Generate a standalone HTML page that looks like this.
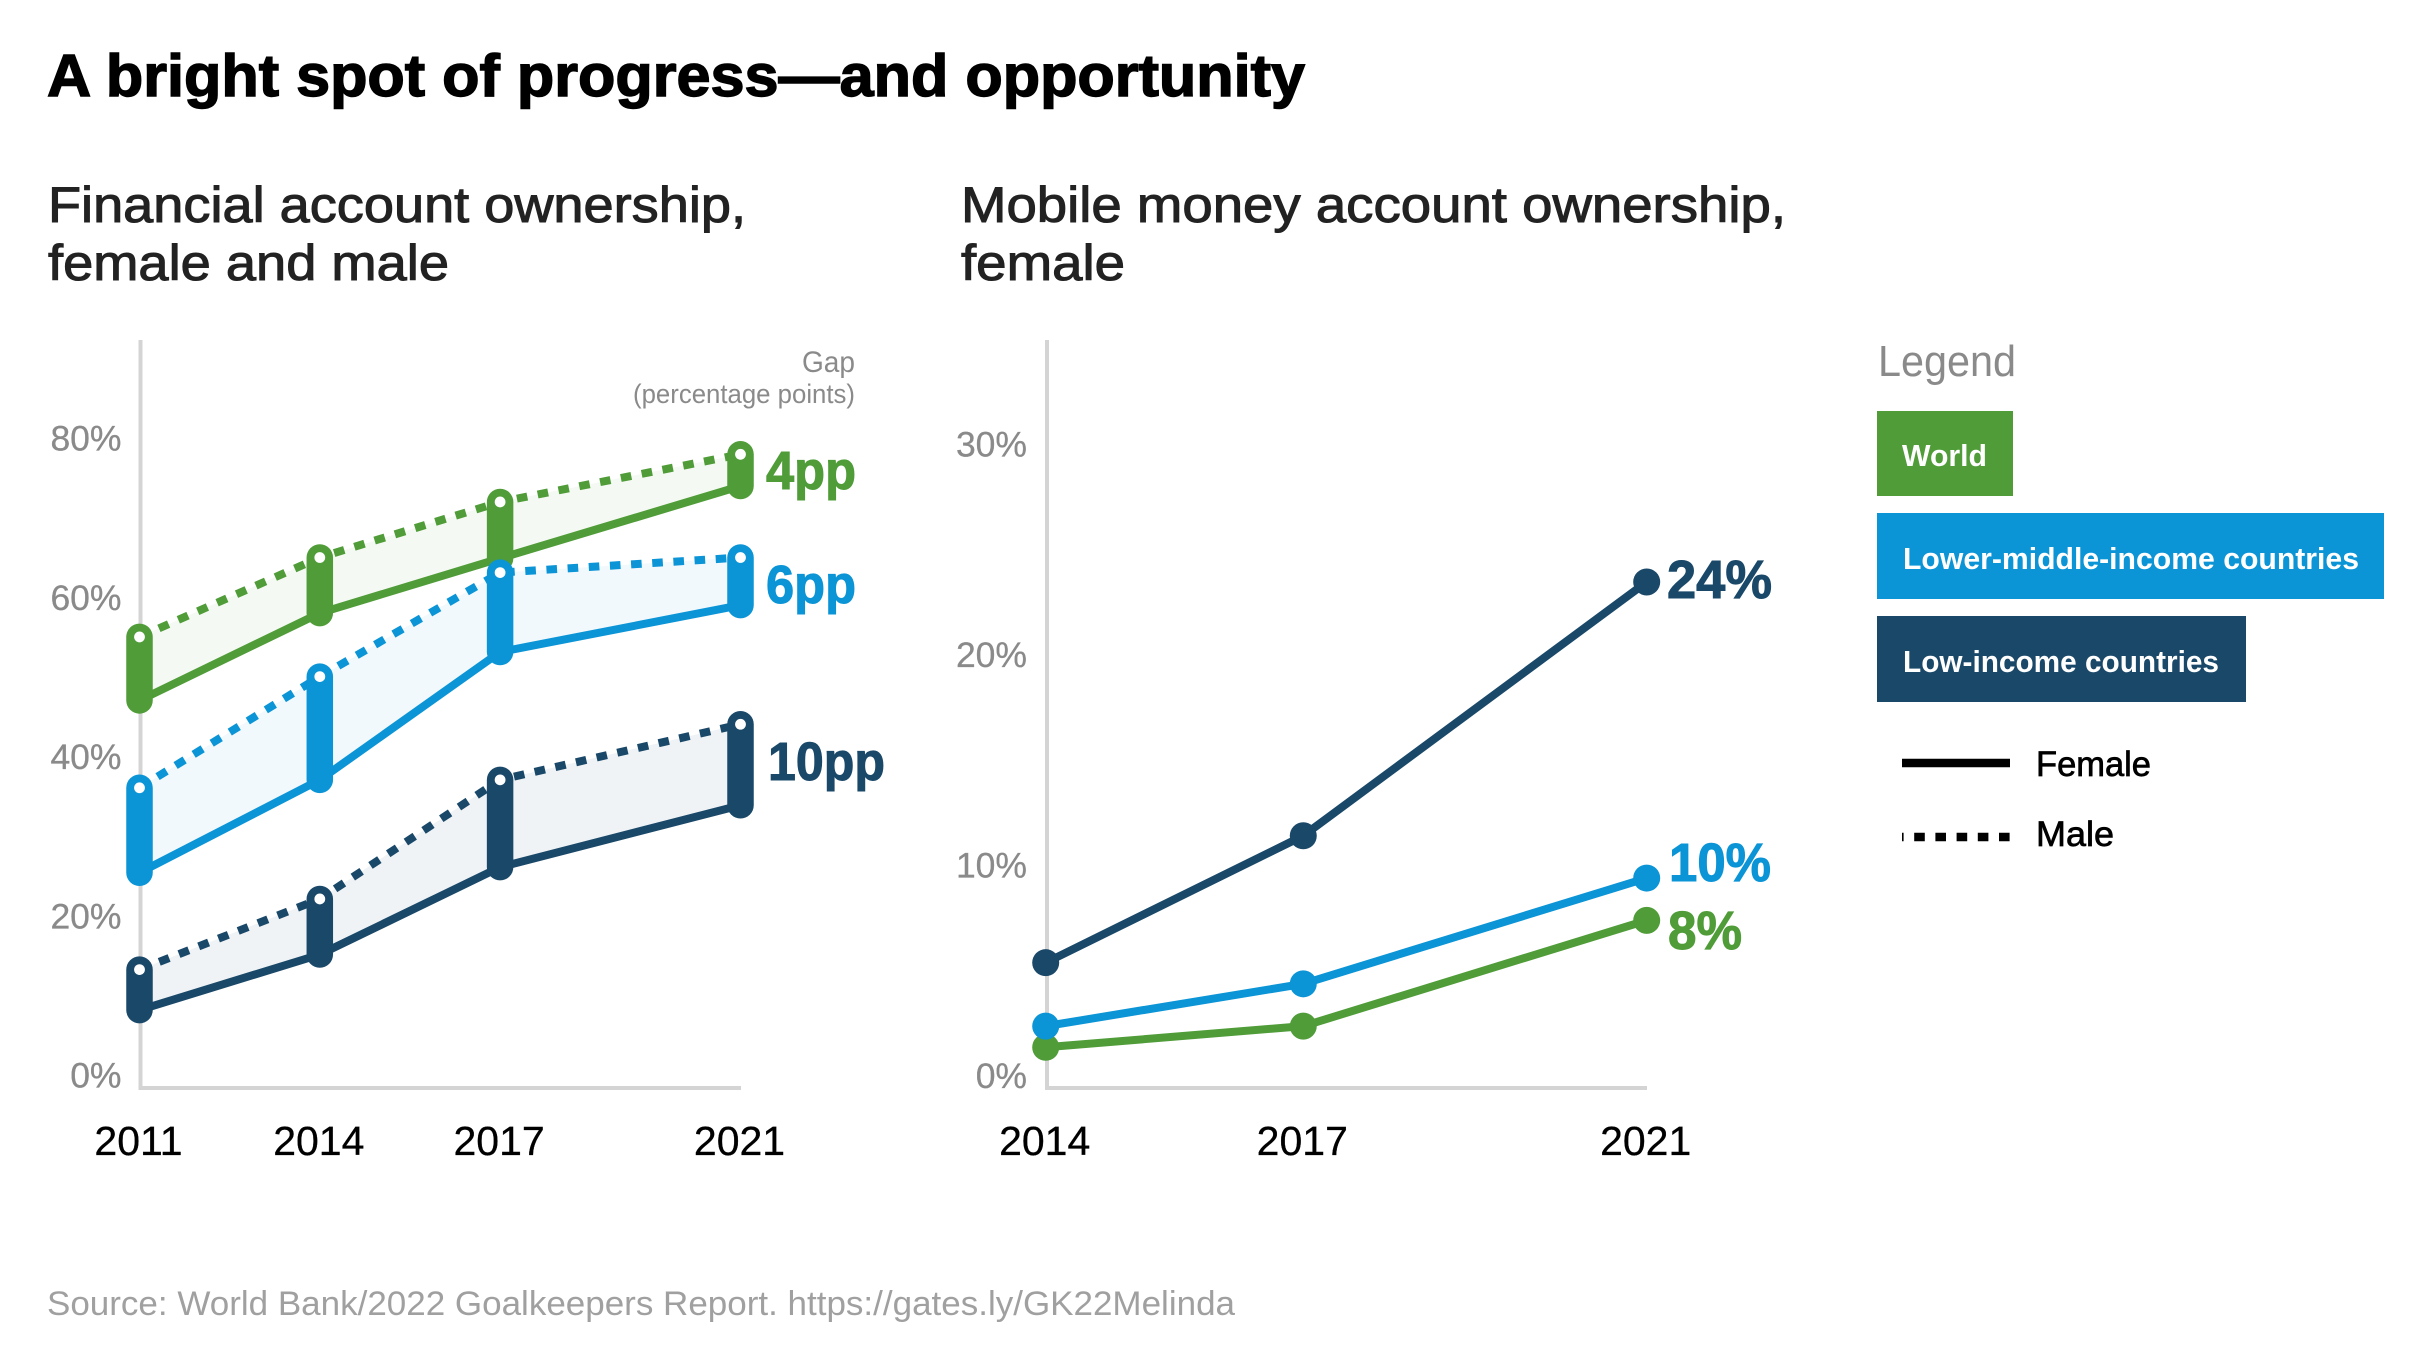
<!DOCTYPE html>
<html lang="en">
<head>
<meta charset="utf-8">
<title>A bright spot of progress—and opportunity</title>
<style>
html,body{margin:0;padding:0;background:#fff;width:2430px;height:1368px;overflow:hidden}
svg{display:block}
text{font-family:"Liberation Sans",sans-serif}
.tick{font-size:35.5px;fill:#8a8a8a;text-anchor:end;stroke:#8a8a8a;stroke-width:.3px}
.year{font-size:41px;fill:#000;text-anchor:middle;stroke:#000;stroke-width:.3px}
.sub{font-size:50px;fill:#222;stroke:#222;stroke-width:1px}
.big{font-size:54px;font-weight:700;stroke-width:1px}
.lg{font-size:31px;font-weight:700;fill:#fff}
.lk{font-size:35px;fill:#000;stroke:#000;stroke-width:.7px}
</style>
</head>
<body>
<svg id="root" xmlns="http://www.w3.org/2000/svg" width="2430" height="1368" viewBox="0 0 2430 1368">
  <rect width="2430" height="1368" fill="#fff"/>
  <text x="47" y="96" font-size="59" font-weight="700" fill="#000" stroke="#000" stroke-width="1.4" textLength="1258" lengthAdjust="spacingAndGlyphs">A bright spot of progress—and opportunity</text>

  <text class="sub" x="48" y="222" textLength="698" lengthAdjust="spacingAndGlyphs">Financial account ownership,</text>
  <text class="sub" x="48" y="280" textLength="401" lengthAdjust="spacingAndGlyphs">female and male</text>
  <text class="sub" x="961" y="222" textLength="825" lengthAdjust="spacingAndGlyphs">Mobile money account ownership,</text>
  <text class="sub" x="961" y="280" textLength="164" lengthAdjust="spacingAndGlyphs">female</text>

  <g id="left-axes">
    <line x1="140.5" y1="340" x2="140.5" y2="1088" stroke="#d4d4d4" stroke-width="4"/>
    <line x1="138.5" y1="1088" x2="741" y2="1088" stroke="#d4d4d4" stroke-width="4"/>
  </g>
  <g id="right-axes">
    <line x1="1047" y1="340" x2="1047" y2="1088" stroke="#d4d4d4" stroke-width="4"/>
    <line x1="1045" y1="1088" x2="1647" y2="1088" stroke="#d4d4d4" stroke-width="4"/>
  </g>

  <g id="left-ticks"></g>
  <g id="right-ticks"></g>
  <g id="left-marks"></g>
  <g id="right-marks"></g>

  <text x="855" y="372" font-size="30" fill="#8a8a8a" text-anchor="end" textLength="53" lengthAdjust="spacingAndGlyphs">Gap</text>
  <text x="855" y="403" font-size="27" fill="#8a8a8a" text-anchor="end" textLength="222" lengthAdjust="spacingAndGlyphs">(percentage points)</text>

  <text class="big" x="766" y="489" fill="#4f9c38" stroke="#4f9c38" textLength="90" lengthAdjust="spacingAndGlyphs">4pp</text>
  <text class="big" x="766" y="603" fill="#0b94d6" stroke="#0b94d6" textLength="90" lengthAdjust="spacingAndGlyphs">6pp</text>
  <text class="big" x="768" y="780" fill="#1a4869" stroke="#1a4869" textLength="117" lengthAdjust="spacingAndGlyphs">10pp</text>

  <text class="big" x="1667" y="598" fill="#1a4869" stroke="#1a4869" textLength="105" lengthAdjust="spacingAndGlyphs">24%</text>
  <text class="big" x="1669" y="881" fill="#0b94d6" stroke="#0b94d6" textLength="102" lengthAdjust="spacingAndGlyphs">10%</text>
  <text class="big" x="1668" y="949" fill="#4f9c38" stroke="#4f9c38" textLength="74" lengthAdjust="spacingAndGlyphs">8%</text>

  <g>
    <text x="1878" y="376" font-size="44" fill="#8a8a8a" textLength="138" lengthAdjust="spacingAndGlyphs">Legend</text>
    <rect x="1877" y="411" width="136" height="85" fill="#4f9c38"/>
    <text class="lg" x="1902" y="466" textLength="85" lengthAdjust="spacingAndGlyphs">World</text>
    <rect x="1877" y="513" width="507" height="86" fill="#0b94d6"/>
    <text class="lg" x="1903" y="569" textLength="456" lengthAdjust="spacingAndGlyphs">Lower-middle-income countries</text>
    <rect x="1877" y="616" width="369" height="86" fill="#1a4869"/>
    <text class="lg" x="1903" y="672" textLength="316" lengthAdjust="spacingAndGlyphs">Low-income countries</text>
    <line x1="1902" y1="763" x2="2010" y2="763" stroke="#000" stroke-width="8.5"/>
    <text class="lk" x="2036" y="776" textLength="115" lengthAdjust="spacingAndGlyphs">Female</text>
    <line x1="1902" y1="837" x2="2010" y2="837" stroke="#000" stroke-width="8.5" stroke-dasharray="10.6 10.6" stroke-dashoffset="9"/>
    <text class="lk" x="2036" y="846" textLength="78" lengthAdjust="spacingAndGlyphs">Male</text>
  </g>

  <text x="47" y="1315" font-size="34" fill="#a0a0a0" textLength="1188" lengthAdjust="spacingAndGlyphs">Source: World Bank/2022 Goalkeepers Report. https://gates.ly/GK22Melinda</text>
</svg>

<script>
// Left chart data (percent)
const leftYears = [2011, 2014, 2017, 2021];
const leftTicks = [0, 20, 40, 60, 80];
const worldFemale = [47.3, 58.3, 65.2, 74.3];
const worldMale = [55.3, 65.3, 72.3, 78.3];
const lowerMiddleFemale = [25.6, 37.3, 53.4, 59.3];
const lowerMiddleMale = [36.3, 50.3, 63.4, 65.3];
const lowIncomeFemale = [8.3, 15.3, 26.3, 34.1];
const lowIncomeMale = [13.4, 22.3, 37.3, 44.3];

// Right chart data (percent)
const rightYears = [2014, 2017, 2021];
const rightTicks = [0, 10, 20, 30];
const mobileWorld = [1.5, 2.5, 7.5];
const mobileLowerMiddle = [2.5, 4.5, 9.5];
const mobileLowIncome = [5.5, 11.5, 23.5];

const GREEN = '#4f9c38', BLUE = '#0b94d6', DARK = '#1a4869';
const NS = 'http://www.w3.org/2000/svg';

function make(parent, tag, attrs) {
  const el = document.createElementNS(NS, tag);
  for (const k in attrs) el.setAttribute(k, attrs[k]);
  parent.appendChild(el);
  return el;
}
function pointsOf(years, values, xf, yf) {
  return years.map((yr, i) => xf(yr).toFixed(2) + ',' + yf(values[i]).toFixed(2));
}

// Axis functions
const xLeft = yr => 139.5 + (yr - 2011) * (740.5 - 139.5) / (2021 - 2011);
const yLeft = v => 1076 - v * 7.94;
const yLeftTick = v => 1087.5 - v * 7.96;
const xRight = yr => 1045.7 + (yr - 2014) * (1646.7 - 1045.7) / (2021 - 2014);
const yRight = v => 1079 - v * 21.15;
const yRightTick = v => 1088 - v * 21.05;

// Tick labels
const leftTickGroup = document.getElementById('left-ticks');


leftTicks.forEach(v => {
  const t = make(leftTickGroup, 'text', {class: 'tick', x: 121.5, y: yLeftTick(v)});
  t.textContent = v + '%';
  
  
});
leftYears.forEach(yr => {
  const t = make(leftTickGroup, 'text', {class: 'year', x: xLeft(yr) - 1, y: 1155});
  t.textContent = yr;
  
  
});
const rightTickGroup = document.getElementById('right-ticks');


rightTicks.forEach(v => {
  const t = make(rightTickGroup, 'text', {class: 'tick', x: 1027, y: yRightTick(v)});
  t.textContent = v + '%';
  
  
});
rightYears.forEach(yr => {
  const t = make(rightTickGroup, 'text', {class: 'year', x: xRight(yr) - 1, y: 1155});
  t.textContent = yr;
  
  
});

// Left chart marks
const leftMarks = document.getElementById('left-marks');


function drawGap(key, color, female, male, bandOpacity) {
  const g = make(leftMarks, 'g', {});
  
  
  const fem = pointsOf(leftYears, female, xLeft, yLeft);
  const mal = pointsOf(leftYears, male, xLeft, yLeft);
  const band = make(g, 'polygon', {points: mal.concat(fem.slice().reverse()).join(' '), fill: color, 'fill-opacity': bandOpacity});
  
  
  const mLine = make(g, 'polyline', {points: mal.join(' '), fill: 'none', stroke: color, 'stroke-width': 8, 'stroke-dasharray': '10.6 10.6'});
  
  
  const fLine = make(g, 'polyline', {points: fem.join(' '), fill: 'none', stroke: color, 'stroke-width': 8});
  
  
  leftYears.forEach((yr, i) => {
    const bar = make(g, 'line', {x1: xLeft(yr), x2: xLeft(yr), y1: yLeft(male[i]), y2: yLeft(female[i]), stroke: color, 'stroke-width': 26.5, 'stroke-linecap': 'round'});
    
    
    const dot = make(g, 'circle', {cx: xLeft(yr), cy: yLeft(male[i]), r: 5.4, fill: '#fff'});
    
    
  });
}
drawGap('world', GREEN, worldFemale, worldMale, 0.06);
drawGap('lower-middle-income', BLUE, lowerMiddleFemale, lowerMiddleMale, 0.055);
drawGap('low-income', DARK, lowIncomeFemale, lowIncomeMale, 0.065);

// Right chart marks
const rightMarks = document.getElementById('right-marks');


function drawMobile(key, color, values) {
  const g = make(rightMarks, 'g', {});
  
  
  const line = make(g, 'polyline', {points: pointsOf(rightYears, values, xRight, yRight).join(' '), fill: 'none', stroke: color, 'stroke-width': 8});
  
  
  rightYears.forEach((yr, i) => {
    const dot = make(g, 'circle', {cx: xRight(yr), cy: yRight(values[i]), r: 13.5, fill: color});
    
    
  });
}
drawMobile('world', GREEN, mobileWorld);
drawMobile('lower-middle-income', BLUE, mobileLowerMiddle);
drawMobile('low-income', DARK, mobileLowIncome);
</script>
</body>
</html>
